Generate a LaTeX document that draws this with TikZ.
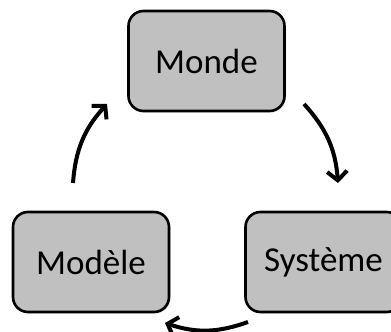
\documentclass[tikz,border=0pt]{standalone}
\usepackage{fontspec}
\setmainfont{Carlito}
\usetikzlibrary{arrows.meta,shadows}
\definecolor{boxgray}{RGB}{192,192,192}
\tikzset{
  box/.style={draw=black, line width=2.6pt, fill=boxgray, rounded corners=15pt,
    minimum width=156pt, minimum height=100pt, inner sep=0pt,
    font=\fontsize{35}{40}\selectfont,
    drop shadow={opacity=0.25, shadow xshift=1.5pt, shadow yshift=-1.5pt}},
  flow/.style={line width=4pt, -{Straight Barb[length=9pt,width=20pt]}, bend left=19}
}
\begin{document}
\begin{tikzpicture}[x=1pt,y=1pt]
\useasboundingbox (0,0) rectangle (391,332);
\begin{scope}
\clip (0,0) rectangle (391,332);
\node[box] (monde) at (206.5,271) {Monde};
\node[box] (modele) at (91,70) {Modèle};
\node[box] (systeme) at (323.5,70) {Système};
\end{scope}
\coordinate (a1) at (73,149);
\coordinate (a2) at (107,228);
\coordinate (b1) at (304,228);
\coordinate (b2) at (338,149);
\coordinate (c1) at (248,10);
\coordinate (c2) at (165,9);
\draw[flow] (a1) to (a2);
\draw[flow] (b1) to (b2);
\draw[flow] (c1) to (c2);
\end{tikzpicture}
\end{document}
